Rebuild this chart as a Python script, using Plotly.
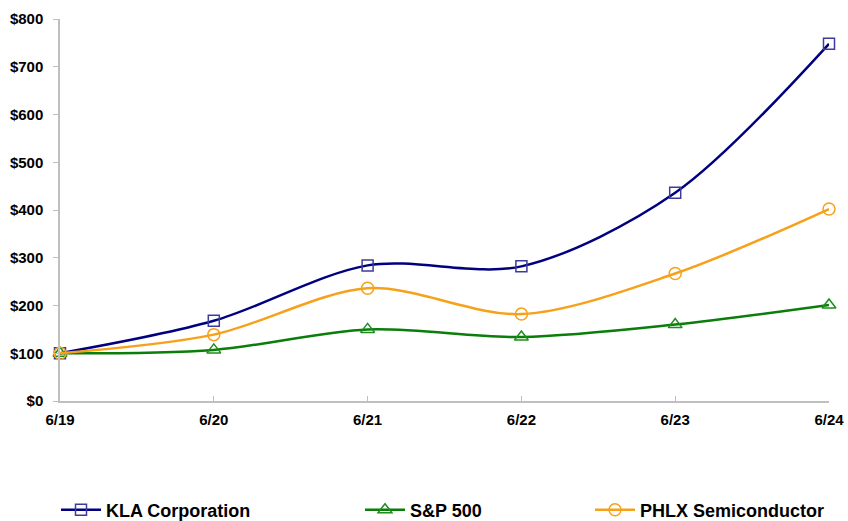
import plotly.graph_objects as go

periods = ["6/19", "6/20", "6/21", "6/22", "6/23", "6/24"]
kla = [100, 168, 284, 282, 436, 748]
sp500 = [100, 107, 150, 134, 160, 201]
phlx = [100, 139, 236, 182, 267, 402]
y_ticks = [0, 100, 200, 300, 400, 500, 600, 700, 800]
y_tick_text = ["$" + str(v) for v in y_ticks]

FONT = "Liberation Sans"
W, H = 848, 521

fig = go.Figure()

series = [
    ("KLA Corporation", kla, "#000080", "#3c3c9c", "square-open", 11, "legend"),
    ("S&P 500", sp500, "#0a7d0a", "#1e8c1e", "triangle-up-open", 12, "legend2"),
    ("PHLX Semiconductor", phlx, "#f7a11a", "#f7a11a", "circle-open", 12, "legend3"),
]
for name, vals, lc, mc, sym, ms, lg in series:
    fig.add_trace(go.Scatter(
        x=list(range(len(periods))), y=vals, name=name, mode="lines+markers",
        line=dict(color=lc, width=2.5, shape="spline", smoothing=0.9),
        marker=dict(symbol=sym, size=ms, color=mc, line=dict(color=mc, width=1.5)),
        cliponaxis=False, legend=lg, showlegend=True,
    ))

legend_common = dict(orientation="h", yanchor="middle", xanchor="left",
                     xref="container", yref="container", y=1 - 510 / H,
                     font=dict(family=FONT, size=18, color="black", weight="bold"),
                     bgcolor="rgba(0,0,0,0)", itemwidth=40)
fig.update_layout(
    width=W, height=H, showlegend=True,
    margin=dict(l=60, r=19, t=19, b=120, autoexpand=False),
    paper_bgcolor="white", plot_bgcolor="white",
    font=dict(family=FONT, size=14, color="black", weight="bold"),
    legend=dict(x=56 / W, **legend_common),
    legend2=dict(x=360 / W, **legend_common),
    legend3=dict(x=590 / W, **legend_common),
    xaxis=dict(
        range=[0, 5], tickvals=list(range(len(periods))), ticktext=periods,
        showgrid=False, zeroline=False, showline=True, linecolor="#bfbfbf", linewidth=1.5,
        ticks="inside", ticklen=5, tickcolor="#bfbfbf", ticklabelstandoff=4,
        tickfont=dict(family=FONT, size=15, color="black", weight="bold"),
    ),
    yaxis=dict(
        range=[0, 800], tickvals=y_ticks, ticktext=y_tick_text,
        showgrid=False, zeroline=False, showline=True, linecolor="#bfbfbf", linewidth=1.5,
        ticks="outside", ticklen=5, tickcolor="#bfbfbf", ticklabelstandoff=7,
        tickfont=dict(family=FONT, size=15, color="black", weight="bold"),
    ),
)

fig.write_html("out.html", config={"displayModeBar": False},
               post_script="document.body.style.margin='0px';")
